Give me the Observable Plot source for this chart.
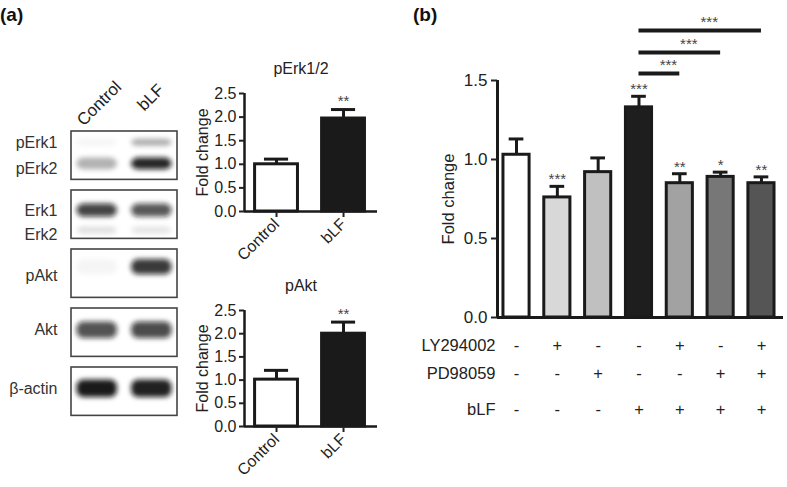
<!DOCTYPE html>
<html><head><meta charset="utf-8">
<script src="https://cdn.jsdelivr.net/npm/d3@7"></script>
<script src="https://cdn.jsdelivr.net/npm/@observablehq/plot@0.6"></script>
<style>
body{margin:0;background:#fff;}
#fig{position:relative;width:787px;height:487px;overflow:hidden;font-family:Arial,"Liberation Sans",sans-serif;background:#fff;}
#fig > *{position:absolute;}
.panel{font-weight:bold;font-size:19px;line-height:19px;color:#111;}
</style></head><body><div id="fig"></div>
<script>
// ---------- (a) western blot ----------
const blotRows = ["pErk1/2", "Erk1/2", "pAkt", "Akt", "β-actin"];
const blotLanes = ["Control", "bLF"];
const bandLabels = ["pErk1", "pErk2", "Erk1", "Erk2", "pAkt", "Akt", "β-actin"];
const bandRow = [0, 0, 1, 1, 2, 3, 4];
const bandPos = [0.19, 0.55, 0.34, 0.68, 0.30, 0.37, 0.36];
const labelPos = [0.19, 0.63, 0.34, 0.75, 0.44, 0.36, 0.36];
const bandThick = [0.12, 0.2, 0.22, 0.12, 0.26, 0.28, 0.3];
const bandControl = [0.04, 0.3, 0.78, 0.12, 0.04, 0.72, 0.95];
const bandBLF = [0.32, 0.9, 0.7, 0.1, 0.82, 0.75, 0.92];

// ---------- (a) quantification ----------
const groupsA = ["Control", "bLF"];
const fillsA = ["#ffffff", "#1a1a1a"];
const pErkMean = [1.0, 1.97];
const pErkSem = [0.11, 0.19];
const pAktMean = [1.01, 2.0];
const pAktSem = [0.2, 0.25];
const sigA = ["", "**"];
const yTicksA = [0, 0.5, 1, 1.5, 2, 2.5];

// ---------- (b) ----------
const meanB = [1.03, 0.76, 0.92, 1.33, 0.85, 0.89, 0.85];
const semB = [0.10, 0.07, 0.09, 0.07, 0.06, 0.03, 0.04];
const sigB = ["", "***", "", "***", "**", "*", "**"];
const colorsB = ["#ffffff", "#d8d8d8", "#c0c0c0", "#1e1e1e", "#a2a2a2", "#777777", "#555555"];
const rowNames = ["LY294002", "PD98059", "bLF"];
const rowLY = ["-", "+", "-", "-", "+", "-", "+"];
const rowPD = ["-", "-", "+", "-", "-", "+", "+"];
const rowBLF = ["-", "-", "-", "+", "+", "+", "+"];
const compFrom = [4, 4, 4];
const compTo = [5, 6, 7];
const compY = [1.545, 1.678, 1.817];
const compStars = ["***", "***", "***"];
const yTicksB = [0, 0.5, 1, 1.5];

const font = 'Arial, "Liberation Sans", sans-serif';
const ink = "#1a1a1a";
const fig = document.getElementById("fig");
function place(el, left, top) { el.style.left = left + "px"; el.style.top = top + "px"; fig.appendChild(el); }
const baseStyle = {fontFamily: font, fontSize: "16px", overflow: "visible", background: "transparent", color: "#222"};

// ---- blot plot ----
const laneX = [0.53, 2.47];
const bands = [];
bandLabels.forEach((name, j) => {
  [bandControl[j], bandBLF[j]].forEach((v, l) => bands.push({lane: l + 1, row: bandRow[j], pos: bandPos[j], t: bandThick[j], v}));
});
const blot = Plot.plot({
  width: 190, height: 487, marginLeft: 71, marginRight: 13, marginTop: 131, marginBottom: 61,
  x: {type: "linear", domain: laneX, axis: null},
  y: {type: "linear", domain: [0, 5], reverse: true, axis: null},
  style: baseStyle,
  marks: [
    Plot.rect(blotRows.map((r, k) => ({k})), {x1: laneX[0], x2: laneX[1], y1: d => d.k, y2: d => d.k + 0.82, fill: "white", stroke: "#444", strokeWidth: 1.6}),
    Plot.rect(bands, {x1: d => d.lane - 0.37, x2: d => d.lane + 0.37, y1: d => d.row + d.pos - d.t / 2, y2: d => d.row + d.pos + d.t / 2, fill: "#111", fillOpacity: d => d.v, rx: 7}),
    Plot.text(bandLabels.map((t, j) => ({t, y: bandRow[j] + labelPos[j]})), {x: laneX[0], y: "y", text: "t", textAnchor: "end", dx: -14, fontSize: 16, fill: "#333"}),
    Plot.text([blotLanes[0]], {x: 1, y: 0, text: d => d, rotate: -45, dx: 2, dy: -28, fontSize: 17, fill: "#222"}),
    Plot.text([blotLanes[1]], {x: 2, y: 0, text: d => d, rotate: -45, dx: -1, dy: -34, fontSize: 17, fill: "#222"})
  ]
});
{
  const s = d3.select(blot);
  const f = s.insert("defs", ":first-child").append("filter").attr("id", "bandBlur").attr("x", "-30%").attr("y", "-60%").attr("width", "160%").attr("height", "220%");
  f.append("feGaussianBlur").attr("stdDeviation", 2.4);
  s.selectAll('g[aria-label="rect"]').filter((d, i) => i === 1).attr("filter", "url(#bandBlur)");
}
place(blot, 0, 0);

// ---- small bar charts ----
const xDomainA = [0.522, 2.507];
function smallChart(title, mean, sem, mTop, plotH) {
  const data = groupsA.map((g, i) => ({i: i + 1, g, m: mean[i], s: sem[i], sig: sigA[i], c: fillsA[i]}));
  return Plot.plot({
    width: 200, height: mTop + plotH + 60, marginLeft: 59, marginRight: 8, marginTop: mTop, marginBottom: 60,
    x: {type: "linear", domain: xDomainA, axis: null},
    y: {domain: [0, 2.5], axis: null, label: null},
    color: {type: "identity"},
    style: baseStyle,
    marks: [
      Plot.ruleX(data, {x: "i", y1: "m", y2: d => d.m + d.s, stroke: ink, strokeWidth: 3}),
      Plot.ruleY(data, {y: d => d.m + d.s, x1: d => d.i - 0.18, x2: d => d.i + 0.18, stroke: ink, strokeWidth: 3}),
      Plot.rectY(data, {x1: d => d.i - 0.32, x2: d => d.i + 0.32, y1: 0, y2: "m", fill: "c", stroke: ink, strokeWidth: 3}),
      Plot.text(data, {x: "i", y: d => d.m + d.s, text: "sig", dy: -8, fontSize: 15, fill: "#444"}),
      Plot.ruleX([xDomainA[0]], {y1: 0, y2: 2.5, stroke: ink, strokeWidth: 2.5}),
      Plot.ruleY([0], {stroke: ink, strokeWidth: 2.5}),
      Plot.axisY({ticks: yTicksA, tickFormat: d3.format(".1f"), tickSize: 5, tickPadding: 3, strokeWidth: 2, fontSize: 16, label: null}),
      Plot.axisX({ticks: [1, 2], tickFormat: i => groupsA[i - 1], tickRotate: -45, tickSize: 6, tickPadding: 4, strokeWidth: 2, fontSize: 16, label: null}),
      Plot.text([title], {frameAnchor: "top", lineAnchor: "middle", dy: -25, dx: -10, fontSize: 16, fill: "#222"}),
      Plot.text(["Fold change"], {frameAnchor: "left", textAnchor: "middle", dx: -42, rotate: -90, fontSize: 16, fill: "#222"})
    ]
  });
}
place(smallChart("pErk1/2", pErkMean, pErkSem, 53, 118), 185, 40);
place(smallChart("pAkt", pAktMean, pAktSem, 50, 116), 185, 260);

// ---- (b) ----
const xDomainB = [0.534, 7.54];
const bData = meanB.map((m, i) => ({i: i + 1, m, s: semB[i], sig: sigB[i], c: colorsB[i]}));
const comps = compFrom.map((f, k) => ({f, t: compTo[k], y: compY[k], s: compStars[k]}));
const rows = [rowLY, rowPD, rowBLF];
const rowDy = [28, 56, 92];
const marksB = [
  Plot.ruleX(bData, {x: "i", y1: "m", y2: d => d.m + d.s, stroke: ink, strokeWidth: 3}),
  Plot.ruleY(bData, {y: d => d.m + d.s, x1: d => d.i - 0.18, x2: d => d.i + 0.18, stroke: ink, strokeWidth: 3}),
  Plot.rectY(bData, {x1: d => d.i - 0.32, x2: d => d.i + 0.32, y1: 0, y2: "m", fill: "c", stroke: ink, strokeWidth: 3}),
  Plot.text(bData, {x: "i", y: d => d.m + d.s, text: "sig", dy: -7, fontSize: 15, fill: "#444"}),
  Plot.ruleY(comps, {y: "y", x1: "f", x2: "t", stroke: ink, strokeWidth: 4}),
  Plot.text(comps, {x: d => (d.f + d.t) / 2, y: "y", text: "s", dx: 9, dy: -8, fontSize: 15, fill: "#444"}),
  Plot.ruleX([xDomainB[0]], {y1: 0, y2: 1.5, stroke: ink, strokeWidth: 3}),
  Plot.ruleY([0], {stroke: ink, strokeWidth: 3}),
  Plot.axisY({ticks: yTicksB, tickFormat: d3.format(".1f"), tickSize: 6, tickPadding: 4, strokeWidth: 2, fontSize: 17, label: null}),
  Plot.text(["Fold change"], {frameAnchor: "left", textAnchor: "middle", dx: -49, rotate: -90, fontSize: 16.5, fill: "#222"})
];
rows.forEach((signs, r) => {
  marksB.push(Plot.text([rowNames[r]], {x: xDomainB[0], y: 0, text: d => d, textAnchor: "end", dx: -2, dy: rowDy[r], fontSize: 16.5, fill: "#222"}));
  marksB.push(Plot.text(signs, {x: (d, i) => i + 1, y: 0, text: d => d, dy: rowDy[r], fontSize: 16.5, fill: "#222"}));
});
const chartB = Plot.plot({
  width: 387, height: 420, marginLeft: 97, marginRight: 4, marginTop: 80, marginBottom: 103,
  x: {type: "linear", domain: xDomainB, axis: null},
  y: {domain: [0, 1.5], axis: null, label: null},
  color: {type: "identity"},
  style: baseStyle,
  marks: marksB
});
place(chartB, 400, 0);

// panel letters
const pa = document.createElement("div"); pa.className = "panel"; pa.textContent = "(a)"; place(pa, 0, 5);
const pb = document.createElement("div"); pb.className = "panel"; pb.textContent = "(b)"; place(pb, 413, 5);
</script></body></html>
